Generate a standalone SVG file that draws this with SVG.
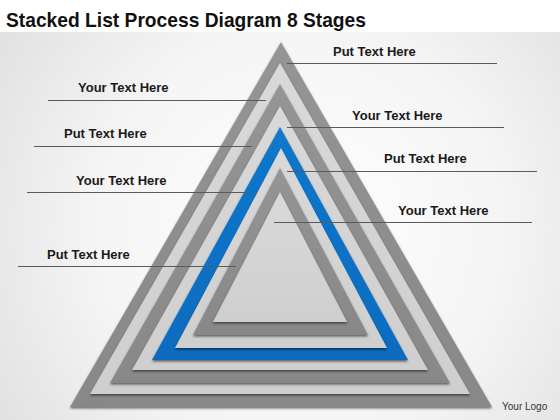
<svg xmlns="http://www.w3.org/2000/svg" width="560" height="420" viewBox="0 0 560 420">
  <defs>
    <radialGradient id="bg" cx="300" cy="230" r="380" gradientUnits="userSpaceOnUse">
      <stop offset="0" stop-color="#ffffff"/>
      <stop offset="0.55" stop-color="#f4f4f4"/>
      <stop offset="1" stop-color="#dedede"/>
    </radialGradient>
    <linearGradient id="dark" x1="0" y1="0" x2="0" y2="1">
      <stop offset="0" stop-color="#959595"/>
      <stop offset="1" stop-color="#888888"/>
    </linearGradient>
    <linearGradient id="light" x1="0" y1="0" x2="0" y2="1">
      <stop offset="0" stop-color="#d9d9d9"/>
      <stop offset="1" stop-color="#cfcfcf"/>
    </linearGradient>
    <linearGradient id="blue" x1="0" y1="0" x2="0" y2="1">
      <stop offset="0" stop-color="#1278cc"/>
      <stop offset="1" stop-color="#0a6bbf"/>
    </linearGradient>
    <filter id="sh" x="-10%" y="-10%" width="120%" height="125%">
      <feDropShadow dx="0" dy="1.5" stdDeviation="1.3" flood-color="#000" flood-opacity="0.55"/>
    </filter>
  </defs>
  <style>
    .t { font-family: "Liberation Sans", Arial, sans-serif; font-weight: bold; font-size: 13px; fill: #1a1a1a; }
    .ld { stroke: #5a5a5a; stroke-width: 1; fill: none; }
    .dk { fill: url(#dark); filter: url(#sh); }
    .lt { fill: url(#light); filter: url(#sh); }
    .bl { fill: url(#blue); filter: url(#sh); }
  </style>

  <rect x="0" y="0" width="560" height="420" fill="#ffffff"/>
  <rect x="0" y="32" width="560" height="388" fill="url(#bg)"/>

  <text x="6" y="27" font-family="Liberation Sans, Arial, sans-serif" font-weight="bold" font-size="21" fill="#111" textLength="360" lengthAdjust="spacingAndGlyphs">Stacked List Process Diagram 8 Stages</text>

  <g id="stage1"><polygon class="dk" points="281,42 70,407 492,407"/></g>
  <g id="stage2"><polygon class="lt" points="280,63 90,394 470,394"/></g>
  <g id="stage3"><polygon class="dk" points="280,84 110,383 450,383"/></g>
  <g id="stage4"><polygon class="lt" points="280,106 132,370 428,370"/></g>
  <g id="stage5"><polygon class="bl" points="280,127 152,360 408,360"/></g>
  <g id="stage6"><polygon class="lt" points="281,148 175,348 387,348"/></g>
  <g id="stage7"><polygon class="dk" points="280,168 193,335 368,335"/></g>
  <g id="stage8"><polygon class="lt" points="280,192 213,322 347,322"/></g>

  <g id="connectors">
    <line class="ld" x1="287" y1="63.5" x2="497" y2="63.5"/>
    <line class="ld" x1="287" y1="127.5" x2="504" y2="127.5"/>
    <line class="ld" x1="287" y1="171.5" x2="537" y2="171.5"/>
    <line class="ld" x1="274" y1="222.5" x2="532" y2="222.5"/>
    <line class="ld" x1="48" y1="100.5" x2="266" y2="100.5"/>
    <line class="ld" x1="34" y1="146.5" x2="252" y2="146.5"/>
    <line class="ld" x1="27" y1="192.5" x2="251" y2="192.5"/>
    <line class="ld" x1="18" y1="266.5" x2="236" y2="266.5"/>
  </g>

  <g id="labels">
    <text class="t" x="333" y="56">Put Text Here</text>
    <text class="t" x="352" y="120">Your Text Here</text>
    <text class="t" x="384" y="163">Put Text Here</text>
    <text class="t" x="398" y="215">Your Text Here</text>
    <text class="t" x="78" y="92">Your Text Here</text>
    <text class="t" x="64" y="138">Put Text Here</text>
    <text class="t" x="76" y="185">Your Text Here</text>
    <text class="t" x="47" y="259">Put Text Here</text>
  </g>

  <text x="502" y="410" font-family="Liberation Sans, Arial, sans-serif" font-size="10" fill="#333">Your Logo</text>
</svg>
